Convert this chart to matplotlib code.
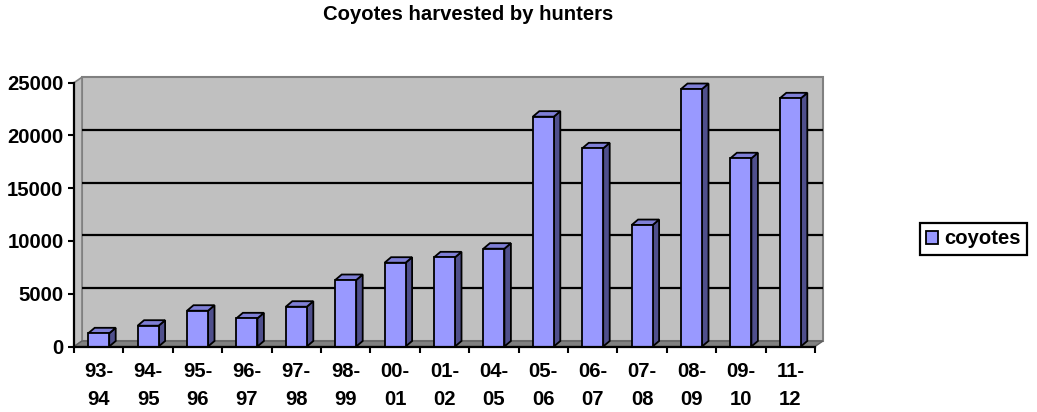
import matplotlib
matplotlib.use("Agg")
import matplotlib.pyplot as plt
from matplotlib.patches import Polygon, Rectangle, Patch

# DATA
SEASONS = ["93-\n94", "94-\n95", "95-\n96", "96-\n97", "97-\n98", "98-\n99", "00-\n01",
           "01-\n02", "04-\n05", "05-\n06", "06-\n07", "07-\n08", "08-\n09", "09-\n10", "11-\n12"]
COYOTES = [1250, 1970, 3390, 2670, 3770, 6300, 7940, 8450, 9270,
           21780, 18780, 11510, 24400, 17840, 23520]
Y_TICKS = [0, 5000, 10000, 15000, 20000, 25000]
SERIES_NAME = "coyotes"
TITLE = "Coyotes harvested by hunters"

# CONSTANTS
WIDTH = 1037
HEIGHT = 412
DPI = 100
Y_MAX = 25000

# plot area (front plane) in pixels
LEFT_PX, RIGHT_PX = 74, 815
TOP_PX, BOTTOM_PX = 82.7, 346.5
PX_PER_SLOT = (RIGHT_PX - LEFT_PX) / len(COYOTES)
PX_PER_UNIT = (BOTTOM_PX - TOP_PX) / Y_MAX

# 3d depth offsets, converted to data units
WALL_DX = 8 / PX_PER_SLOT
WALL_DY = 5.5 / PX_PER_UNIT
BAR_DX = 6.5 / PX_PER_SLOT
BAR_DY = 5.5 / PX_PER_UNIT
BAR_W = 21 / PX_PER_SLOT

FRONT = "#9999FF"
SIDE = "#4F4F8C"
TOP = "#7F7FD6"
WALL = "#C0C0C0"
FLOOR = "#808080"

plt.rcParams["font.family"] = ["Liberation Sans", "DejaVu Sans"]
plt.rcParams["font.weight"] = "bold"
FS = 14.6

fig = plt.figure(figsize=(WIDTH / DPI, HEIGHT / DPI), dpi=DPI, facecolor="white")
ax = fig.add_axes([LEFT_PX / WIDTH, 1 - BOTTOM_PX / HEIGHT,
                   (RIGHT_PX - LEFT_PX) / WIDTH, (BOTTOM_PX - TOP_PX) / HEIGHT])
n = len(COYOTES)
ax.set_xlim(0, n)
ax.set_ylim(0, Y_MAX)
ax.patch.set_visible(False)

# walls and floor
ax.add_patch(Rectangle((WALL_DX, WALL_DY), n, Y_MAX, facecolor=WALL, edgecolor=FLOOR,
                       lw=1.5, zorder=0, clip_on=False))
ax.add_patch(Polygon([(0, 0), (WALL_DX, WALL_DY), (WALL_DX, Y_MAX + WALL_DY), (0, Y_MAX)],
                     closed=True, facecolor=WALL, edgecolor=FLOOR, lw=1.2, zorder=0.5, clip_on=False))
ax.add_patch(Polygon([(0, 0), (n, 0), (n + WALL_DX, WALL_DY), (WALL_DX, WALL_DY)],
                     closed=True, facecolor=FLOOR, edgecolor="#606060", lw=1, zorder=0.5, clip_on=False))

# gridlines on the back wall
for v in Y_TICKS[1:-1]:
    ax.plot([WALL_DX, n + WALL_DX], [v + WALL_DY, v + WALL_DY], color="black", lw=1.6,
            zorder=1, clip_on=False, solid_capstyle="butt")

# bars: front face, side face and top face
xs = [i + 0.5 for i in range(n)]
ax.bar(xs, COYOTES, width=BAR_W, color=FRONT, edgecolor="black", lw=1.3, zorder=4)
for x, v in zip(xs, COYOTES):
    r = x + BAR_W / 2
    l = x - BAR_W / 2
    ax.add_patch(Polygon([(r, 0), (r + BAR_DX, BAR_DY), (r + BAR_DX, v + BAR_DY), (r, v)],
                         closed=True, facecolor=SIDE, edgecolor="black", lw=1.3,
                         zorder=3, clip_on=False))
    ax.add_patch(Polygon([(l, v), (r, v), (r + BAR_DX, v + BAR_DY), (l + BAR_DX, v + BAR_DY)],
                         closed=True, facecolor=TOP, edgecolor="black", lw=1.3,
                         zorder=3, clip_on=False))

# axes
for side in ["top", "right"]:
    ax.spines[side].set_visible(False)
for side in ["left", "bottom"]:
    ax.spines[side].set_linewidth(1.6)
    ax.spines[side].set_color("black")
    ax.spines[side].set_zorder(5)

ax.set_yticks(Y_TICKS)
ax.set_yticklabels([str(v) for v in Y_TICKS], fontsize=FS, fontweight="bold")
ax.tick_params(axis="y", direction="out", length=4.5, width=1.5, pad=3)

ax.set_xticks(range(n + 1))
ax.set_xticklabels([])
ax.tick_params(axis="x", which="major", direction="out", length=4, width=1.5)
ax.set_xticks(xs, minor=True)
ax.set_xticklabels(SEASONS, minor=True, fontsize=FS, fontweight="bold", linespacing=1.6)
ax.tick_params(axis="x", which="minor", length=0, pad=11)

fig.text(468 / WIDTH, 1 - 15 / HEIGHT, TITLE, ha="center", va="center",
         fontsize=FS, fontweight="bold")

leg = fig.legend(handles=[Patch(facecolor=FRONT, edgecolor="black", lw=1.3)],
                 labels=[SERIES_NAME], loc="center",
                 bbox_to_anchor=(973.5 / WIDTH, 1 - 239 / HEIGHT),
                 prop={"size": FS, "weight": "bold"}, fancybox=False, framealpha=1,
                 handlelength=0.6, handleheight=0.6, handletextpad=0.3,
                 borderpad=0.3, borderaxespad=0)
leg.get_frame().set_edgecolor("black")
leg.get_frame().set_linewidth(1.6)

fig.savefig("out.png", dpi=DPI, facecolor="white")
plt.close()
